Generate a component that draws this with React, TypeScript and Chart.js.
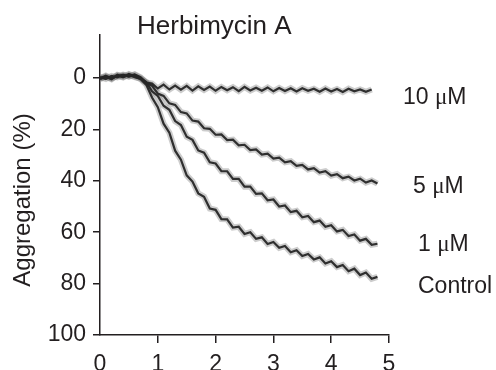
import React, { useEffect, useRef } from "react";
import { Chart, registerables } from "chart.js";

Chart.register(...registerables);

// ---- data ----
const timeMin = [
  0, 0.1, 0.2, 0.3, 0.4, 0.5, 0.6, 0.7, 0.8, 0.9,
  1.0, 1.1, 1.2, 1.3, 1.4, 1.5, 1.6, 1.7, 1.8, 1.9,
  2.0, 2.1, 2.2, 2.3, 2.4, 2.5, 2.6, 2.7, 2.8, 2.9,
  3.0, 3.1, 3.2, 3.3, 3.4, 3.5, 3.6, 3.7, 3.8, 3.9,
  4.0, 4.1, 4.2, 4.3, 4.4, 4.5, 4.6, 4.7, 4.8,
];

const herb10uM = [
  0.1, -0.5, 0.5, -1.0, -0.2, -1.2, -0.3, 0.3, 1.8, 2.2,
  4.1, 2.6, 4.5, 3.0, 4.6, 3.1, 4.9, 3.3, 4.7, 3.4,
  5.0, 3.5, 4.8, 3.6, 5.1, 3.5, 4.9, 3.8, 5.0, 3.7,
  5.2, 3.9, 5.1, 4.0, 5.3, 4.0, 5.0, 4.2, 5.4, 4.1,
  5.3, 4.3, 5.5, 4.2, 5.2, 4.5, 5.4, 4.5,
];

const herb5uM = [
  -0.3, 0.4, -0.8, -0.2, -1.1, -0.6, -1.4, -0.3, 1.9, 3.0,
  6.1, 7.0, 9.9, 10.5, 13.3, 13.8, 16.6, 17.0, 19.6, 19.8,
  22.1, 22.0, 24.2, 24.0, 26.2, 26.0, 28.1, 27.8, 29.8, 29.5,
  31.4, 31.0, 32.8, 32.4, 34.2, 33.8, 35.6, 35.1, 36.8, 36.3,
  38.0, 37.4, 39.0, 38.4, 39.9, 39.2, 40.7, 39.9, 41.1,
];

const herb1uM = [
  0.2, -0.9, 0.1, -0.7, -1.3, -0.5, -1.2, 0.0, 1.6, 5.2,
  7.0, 10.8, 12.4, 16.8, 18.3, 22.9, 24.1, 28.2, 29.1, 32.8,
  33.3, 36.3, 36.3, 39.3, 39.3, 42.3, 42.3, 45.1, 44.9, 47.6,
  47.3, 50.0, 49.6, 52.2, 51.7, 54.2, 53.7, 56.1, 55.5, 57.9,
  57.3, 59.7, 59.1, 61.5, 60.9, 63.3, 62.6, 64.9, 64.5,
];

const control = [
  0.5, -0.6, 0.3, -1.2, -0.4, -1.5, -0.6, 0.4, 2.6, 7.6,
  11.4, 17.8, 21.3, 28.3, 31.8, 37.9, 40.3, 44.9, 46.2, 50.8,
  51.3, 54.9, 55.0, 58.2, 57.9, 60.7, 60.0, 62.6, 62.0, 64.6,
  63.8, 66.1, 65.4, 67.8, 67.0, 69.3, 68.5, 70.6, 69.8, 72.2,
  71.3, 73.6, 72.8, 75.2, 74.2, 76.7, 75.7, 78.1, 77.4,
];

const seriesNames = ["10 μM", "5 μM", "1 μM", "Control"];
const yTickValues = [0, 20, 40, 60, 80, 100];
const xTickValues = [0, 1, 2, 3, 4, 5];
const chartTitle = "Herbimycin A";
const yAxisTitle = "Aggregation (%)";

// ---- styles ----
const TEXT = "#231f20";
const AXIS = "#231f20";
const LINE = "rgba(38,38,38,0.95)";
const HALO = "rgba(110,110,110,0.35)";
const SANS = "'Liberation Sans', Arial, sans-serif";
const SERIF = "'Liberation Serif', 'DejaVu Serif', serif";

function drawMixed(c: CanvasRenderingContext2D, text: string, x: number, y: number, size: number) {
  const parts = text.split(/(μ)/);
  let cx = x;
  for (const p of parts) {
    if (!p) continue;
    c.font = p === "μ" ? `${size}px ${SERIF}` : `${size}px ${SANS}`;
    c.fillText(p, cx, y);
    cx += c.measureText(p).width;
  }
}

export default function App() {
  const ref = useRef<HTMLCanvasElement>(null);

  useEffect(() => {
    document.body.style.margin = "0";
    const canvas = ref.current;
    if (!canvas) return;

    const mk = (vals: number[]) => vals.map((v, i) => ({ x: timeMin[i], y: v }));
    const seriesData = [herb10uM, herb5uM, herb1uM, control];

    const textPlugin = {
      id: "annotText",
      afterDraw(chart: any) {
        const c: CanvasRenderingContext2D = chart.ctx;
        c.save();
        c.fillStyle = TEXT;
        c.textBaseline = "alphabetic";
        c.textAlign = "left";
        c.font = `26px ${SANS}`;
        c.fillText(chartTitle, 137, 34);

        c.save();
        c.translate(30, 200);
        c.rotate(-Math.PI / 2);
        c.textAlign = "center";
        c.font = `24px ${SANS}`;
        c.fillText(yAxisTitle, 0, 0);
        c.restore();

        const pos = [
          [403, 104],
          [413, 193],
          [418, 251],
          [418, 293],
        ];
        c.textAlign = "left";
        seriesNames.forEach((name, i) => drawMixed(c, name, pos[i][0], pos[i][1], 23));
        c.restore();
      },
    };

    const halos = seriesData.map((vals, i) => ({
      label: seriesNames[i] + " halo",
      data: mk(vals),
      borderColor: HALO,
      borderWidth: 6,
      pointRadius: 0,
      tension: 0,
      fill: false,
    }));
    const lines = seriesData.map((vals, i) => ({
      label: seriesNames[i],
      data: mk(vals),
      borderColor: LINE,
      borderWidth: 2.2,
      pointRadius: 0,
      tension: 0,
      fill: false,
    }));

    const chart = new Chart(canvas, {
      type: "line",
      data: { datasets: [...lines, ...halos] },
      options: {
        responsive: false,
        animation: false,
        layout: { padding: { left: 0, right: 107, top: 35, bottom: 0 } },
        plugins: {
          legend: { display: false },
          tooltip: { enabled: false },
          title: { display: false },
        },
        scales: {
          x: {
            type: "linear",
            min: 0,
            max: 5,
            afterFit: (s: any) => {
              s.height = 35;
            },
            afterBuildTicks: (s: any) => {
              s.ticks = xTickValues.map((v) => ({ value: v }));
            },
            grid: {
              display: true,
              drawOnChartArea: false,
              drawTicks: true,
              tickLength: 8,
              lineWidth: 1.5,
              color: (ctx: any) => (ctx.tick && ctx.tick.value === 0 ? "rgba(0,0,0,0)" : AXIS),
            },
            border: { display: true, color: AXIS, width: 1.5 },
            ticks: {
              color: TEXT,
              font: { family: SANS, size: 23 },
              padding: 8,
              maxRotation: 0,
              autoSkip: false,
              callback: (v: any) => String(v),
            },
          },
          y: {
            type: "linear",
            reverse: true,
            min: -16.7,
            max: 100,
            afterFit: (s: any) => {
              s.width = 100;
            },
            afterBuildTicks: (s: any) => {
              s.ticks = yTickValues.map((v) => ({ value: v }));
            },
            grid: {
              display: true,
              drawOnChartArea: false,
              drawTicks: true,
              tickLength: 7,
              lineWidth: 1.5,
              color: AXIS,
            },
            border: { display: true, color: AXIS, width: 1.5 },
            ticks: {
              color: TEXT,
              font: { family: SANS, size: 23 },
              padding: 7,
              autoSkip: false,
              callback: (v: any) => String(v),
            },
          },
        },
      },
      plugins: [textPlugin],
    } as any);

    return () => chart.destroy();
  }, []);

  return (
    <div style={{ width: 496, height: 370, position: "relative" }}>
      <canvas ref={ref} width={496} height={370} style={{ display: "block" }} />
    </div>
  );
}
